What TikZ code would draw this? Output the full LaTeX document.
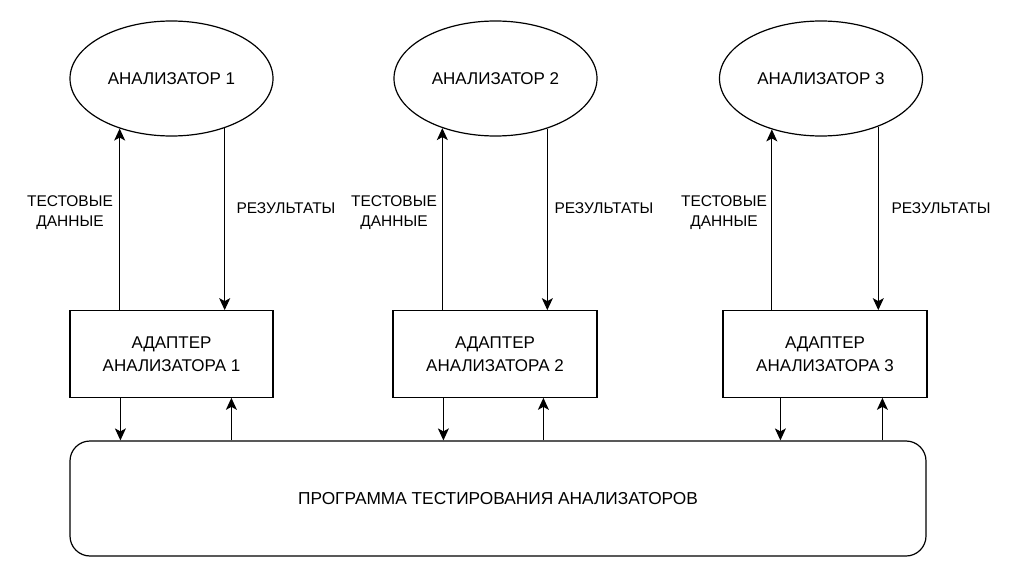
\documentclass[tikz,border=0pt]{standalone}
\usepackage{fontspec}
\setmainfont{Liberation Sans}
\usetikzlibrary{shapes.geometric,arrows.meta,calc}
\begin{document}
\begin{tikzpicture}[x=1pt,y=-1pt,
  every node/.style={font=\fontsize{17}{20}\selectfont},
  anal/.style={draw,ellipse,line width=1.2pt,minimum width=203pt,minimum height=115pt,inner sep=0pt},
  adapt/.style={draw,line width=1.2pt,minimum width=203pt,minimum height=86.5pt,inner sep=0pt,align=center,font=\fontsize{17}{22.5}\selectfont},
  prog/.style={draw,rounded corners=20pt,line width=1.2pt,minimum width=856pt,minimum height=115pt,inner sep=0pt,font=\fontsize{17.3}{20}\selectfont},
  lbl/.style={align=center,inner sep=0pt,font=\fontsize{15.5}{20}\selectfont},
  arr/.style={line width=1.2pt,-{Stealth[length=12pt,width=11pt,inset=3pt]}}
]
\useasboundingbox (0,0) rectangle (1026,583);

\node[anal] (e1) at (171.5,78.5) {АНАЛИЗАТОР 1};
\node[anal] (e2) at (495.5,78.5) {АНАЛИЗАТОР 2};
\node[anal] (e3) at (821,78.5) {АНАЛИЗАТОР 3};

\node[adapt] (b1) at (171.5,354) {АДАПТЕР\\АНАЛИЗАТОРА 1};
\node[adapt,minimum width=204pt] (b2) at (495,354) {АДАПТЕР\\АНАЛИЗАТОРА 2};
\node[adapt,minimum width=204pt] (b3) at (825,354) {АДАПТЕР\\АНАЛИЗАТОРА 3};

\node[prog] (p) at (498,498.5) {ПРОГРАММА ТЕСТИРОВАНИЯ АНАЛИЗАТОРОВ};

\node[lbl] (t1) at (70,213) {ТЕСТОВЫЕ\\ДАННЫЕ};
\node[lbl] (r1) at (286,208) {РЕЗУЛЬТАТЫ};
\node[lbl] (t2) at (394,213) {ТЕСТОВЫЕ\\ДАННЫЕ};
\node[lbl] (r2) at (604,208) {РЕЗУЛЬТАТЫ};
\node[lbl] (t3) at (724,213) {ТЕСТОВЫЕ\\ДАННЫЕ};
\node[lbl] (r3) at (941,208) {РЕЗУЛЬТАТЫ};

% analyser links
\draw[arr] (b1.north -| e1.224.1) -- (e1.224.1);
\draw[arr] (e1.-43.6) -- (e1.-43.6 |- b1.north);
\draw[arr] (b2.north -| e2.223.5) -- (e2.223.5);
\draw[arr] (e2.-44.5) -- (e2.-44.5 |- b2.north);
\draw[arr] (b3.north -| e3.226.6) -- (e3.226.6);
\draw[arr] (e3.-40.7) -- (e3.-40.7 |- b3.north);

% program links
\coordinate (d1) at ($(b1.south west)+(51,0)$);
\coordinate (u1) at ($(b1.south west)+(162,0)$);
\coordinate (d2) at ($(b2.south west)+(51,0)$);
\coordinate (u2) at ($(b2.south west)+(151,0)$);
\coordinate (d3) at ($(b3.south west)+(58,0)$);
\coordinate (u3) at ($(b3.south west)+(160,0)$);
\draw[arr] (d1) -- (d1 |- p.north);
\draw[arr] (u1 |- p.north) -- (u1);
\draw[arr] (d2) -- (d2 |- p.north);
\draw[arr] (u2 |- p.north) -- (u2);
\draw[arr] (d3) -- (d3 |- p.north);
\draw[arr] (u3 |- p.north) -- (u3);
\end{tikzpicture}
\end{document}
